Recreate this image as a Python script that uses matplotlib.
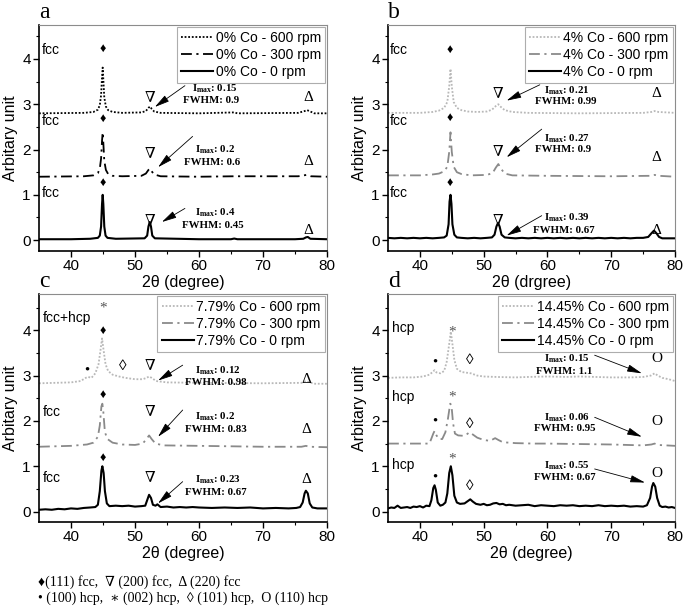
import matplotlib.pyplot as plt

plt.rcParams['font.family'] = ['Liberation Sans', 'DejaVu Sans']
SERIF = ['Liberation Serif', 'DejaVu Serif', 'DejaVu Sans']

# ---- data: (2theta, intensity) ----
# panel a, 0% Co
a_600 = [(35, 2.8), (42, 2.81), (43.5, 2.83), (44.2, 2.88), (44.5, 2.98), (44.7, 3.2), (44.85, 3.6),
         (44.95, 3.81), (45.05, 3.55), (45.2, 3.15), (45.45, 2.95), (45.8, 2.87), (46.5, 2.83), (48, 2.81),
         (51, 2.82), (51.7, 2.85), (52.1, 2.92), (52.35, 2.95), (52.6, 2.9), (53, 2.84), (54, 2.81),
         (60, 2.8), (65.5, 2.82), (66, 2.8), (75.5, 2.81), (76.5, 2.85), (76.9, 2.87), (77.4, 2.84),
         (78, 2.8), (80, 2.8)]
a_300 = [(35, 1.4), (42, 1.41), (43.5, 1.43), (44.2, 1.48), (44.5, 1.58), (44.7, 1.8), (44.85, 2.2),
         (44.95, 2.38), (45.05, 2.15), (45.2, 1.75), (45.45, 1.55), (45.8, 1.46), (46.5, 1.42), (48, 1.41),
         (51, 1.42), (51.7, 1.47), (52.1, 1.55), (52.35, 1.58), (52.6, 1.52), (53, 1.45), (54, 1.41),
         (60, 1.4), (65.5, 1.41), (75.5, 1.41), (76.8, 1.44), (77.5, 1.41), (80, 1.4)]
a_0 = [(35, 0.02), (40, 0.02), (43, 0.03), (44.2, 0.05), (44.5, 0.1), (44.7, 0.3), (44.85, 0.8),
       (44.95, 1.0), (45.05, 0.8), (45.2, 0.3), (45.4, 0.1), (45.7, 0.05), (47, 0.03), (51.5, 0.04),
       (51.9, 0.1), (52.1, 0.3), (52.3, 0.4), (52.5, 0.3), (52.7, 0.1), (53.1, 0.04), (60, 0.02),
       (65, 0.02), (65.5, 0.035), (66, 0.02), (75, 0.02), (76.3, 0.03), (76.7, 0.06), (77, 0.07),
       (77.4, 0.03), (80, 0.02)]

# panel b, 4% Co
b_600 = [(35, 2.81), (40, 2.81), (42, 2.83), (43, 2.86), (43.8, 2.92), (44.3, 3.05), (44.6, 3.4),
         (44.8, 3.78), (45.0, 3.4), (45.3, 3.05), (45.8, 2.92), (46.5, 2.87), (47.5, 2.84), (49, 2.83),
         (50.5, 2.84), (51.3, 2.88), (51.9, 2.96), (52.3, 3.0), (52.7, 2.94), (53.3, 2.87), (54.5, 2.83),
         (57, 2.81), (65, 2.8), (75, 2.81), (76.3, 2.83), (76.8, 2.85), (77.4, 2.83), (80, 2.81)]
b_300 = [(35, 1.43), (40, 1.43), (42, 1.45), (43, 1.47), (43.8, 1.52), (44.3, 1.62), (44.6, 1.95),
         (44.8, 2.38), (45.0, 1.95), (45.3, 1.62), (45.8, 1.5), (46.5, 1.46), (48, 1.43), (50.5, 1.44),
         (51.4, 1.48), (51.9, 1.6), (52.3, 1.68), (52.7, 1.58), (53.3, 1.47), (54.5, 1.43), (60, 1.42),
         (70, 1.41), (76, 1.42), (76.8, 1.44), (77.5, 1.42), (80, 1.4)]
b_0 = [(35, 0.05), (36, 0.04), (37, 0.05), (38, 0.04), (39, 0.05), (40, 0.04), (41, 0.05), (42, 0.04),
       (43, 0.05), (43.8, 0.06), (44.2, 0.1), (44.5, 0.35), (44.65, 0.85), (44.8, 1.0), (44.95, 0.8),
       (45.1, 0.35), (45.4, 0.12), (45.8, 0.06), (46.5, 0.05), (47.5, 0.04), (48.5, 0.05), (49.5, 0.04),
       (50.5, 0.05), (51.3, 0.06), (51.7, 0.12), (52.0, 0.3), (52.25, 0.38), (52.5, 0.3), (52.8, 0.12),
       (53.3, 0.06), (54, 0.05), (55, 0.04), (56, 0.05), (57, 0.04), (58, 0.05), (59, 0.04), (60, 0.05),
       (61, 0.04), (62, 0.05), (63, 0.04), (64, 0.05), (65, 0.04), (66, 0.05), (67, 0.04), (68, 0.05),
       (69, 0.04), (70, 0.05), (71, 0.04), (72, 0.05), (73, 0.04), (74, 0.05), (75, 0.05), (75.8, 0.07),
       (76.3, 0.15), (76.7, 0.21), (77.1, 0.15), (77.5, 0.07), (78, 0.04), (79, 0.04), (80, 0.04)]

# panel c, 7.79% Co
c_600 = [(35, 2.83), (40, 2.85), (41.5, 2.88), (42.3, 2.95), (42.7, 2.97), (43.2, 2.95), (43.8, 3.05),
         (44.3, 3.25), (44.6, 3.55), (44.85, 3.82), (45.1, 3.55), (45.4, 3.25), (45.8, 3.1), (46.5, 3.02),
         (47.5, 2.98), (48.5, 2.95), (50, 2.92), (51.2, 2.92), (51.8, 2.95), (52.2, 2.98), (52.6, 2.95),
         (53.3, 2.88), (55, 2.85), (60, 2.84), (70, 2.83), (76, 2.84), (76.7, 2.88), (77.3, 2.85),
         (78, 2.82), (80, 2.82)]
c_300 = [(35, 1.43), (40, 1.45), (42.5, 1.48), (43.5, 1.52), (44.2, 1.65), (44.5, 1.9), (44.75, 2.32),
         (44.9, 2.38), (45.05, 2.2), (45.3, 1.75), (45.7, 1.6), (46.5, 1.52), (48, 1.48), (50, 1.47),
         (51.2, 1.5), (51.8, 1.6), (52.2, 1.68), (52.6, 1.6), (53.2, 1.5), (54.5, 1.46), (60, 1.45),
         (70, 1.43), (76, 1.43), (76.7, 1.45), (77.3, 1.43), (80, 1.42)]
c_0 = [(35, 0.04), (36, 0.05), (37, 0.04), (38, 0.06), (39, 0.05), (40, 0.07), (41, 0.06), (42, 0.08),
       (43, 0.09), (43.8, 0.1), (44.2, 0.15), (44.5, 0.45), (44.75, 0.9), (44.9, 1.0), (45.1, 0.85),
       (45.3, 0.45), (45.6, 0.18), (46, 0.12), (47, 0.13), (48, 0.12), (49, 0.13), (50, 0.11),
       (51, 0.12), (51.6, 0.13), (51.9, 0.25), (52.2, 0.37), (52.5, 0.3), (52.8, 0.15), (53.2, 0.13),
       (53.5, 0.16), (54, 0.1), (55, 0.11), (56, 0.09), (57, 0.1), (58, 0.09), (59, 0.1), (60, 0.09),
       (62, 0.08), (64, 0.09), (66, 0.08), (68, 0.09), (70, 0.07), (72, 0.08), (74, 0.07), (75.2, 0.08),
       (75.8, 0.1), (76.2, 0.2), (76.5, 0.4), (76.7, 0.46), (77.0, 0.4), (77.3, 0.18), (77.7, 0.09),
       (78.5, 0.07), (80, 0.07)]

# panel d, 14.45% Co
d_600 = [(35, 2.95), (37, 2.96), (39, 2.96), (40.5, 2.98), (41.5, 3.02), (42.0, 3.08), (42.3, 3.12),
         (42.6, 3.07), (43.2, 3.05), (43.8, 3.1), (44.2, 3.3), (44.6, 3.7), (44.85, 3.97), (45.1, 3.7),
         (45.4, 3.35), (45.8, 3.15), (46.5, 3.08), (47.5, 3.06), (48, 3.05), (49, 3.0), (50, 2.98),
         (52, 2.97), (55, 2.96), (57, 2.97), (60, 2.98), (63, 2.97), (65, 2.98), (70, 2.96), (73, 2.96),
         (75, 2.97), (76.2, 3.0), (76.8, 3.05), (77.3, 3.0), (78, 2.95), (79, 2.92), (80, 2.88)]
d_300 = [(35, 1.5), (38, 1.5), (41.5, 1.5), (42.1, 1.72), (42.3, 1.78), (42.6, 1.68), (43.0, 1.6),
         (43.5, 1.6), (44.0, 1.75), (44.4, 2.05), (44.75, 2.38), (44.95, 2.35), (45.2, 1.95), (45.5, 1.72),
         (46, 1.68), (47, 1.67), (47.8, 1.75), (48.3, 1.7), (49, 1.63), (50, 1.58), (51, 1.56), (51.8, 1.62),
         (52.3, 1.58), (53, 1.53), (55, 1.51), (58, 1.5), (60, 1.5), (65, 1.49), (70, 1.48), (75, 1.46),
         (76.3, 1.48), (76.8, 1.5), (77.3, 1.47), (80, 1.45)]
d_0 = [(35, 0.07), (35.5, 0.09), (36, 0.08), (36.5, 0.13), (37, 0.08), (37.5, 0.09), (38, 0.1), (38.5, 0.08),
       (39, 0.11), (39.5, 0.1), (40, 0.12), (40.5, 0.09), (41, 0.13), (41.5, 0.12), (41.8, 0.25),
       (42.1, 0.52), (42.3, 0.58), (42.5, 0.48), (42.8, 0.2), (43.2, 0.13), (43.6, 0.15), (44.0, 0.2),
       (44.3, 0.4), (44.6, 0.85), (44.85, 1.0), (45.1, 0.8), (45.4, 0.35), (45.8, 0.2), (46.3, 0.17),
       (47, 0.18), (47.5, 0.23), (47.9, 0.27), (48.3, 0.22), (48.8, 0.17), (49.5, 0.15), (50, 0.17),
       (50.5, 0.14), (51, 0.15), (51.5, 0.18), (52, 0.19), (52.5, 0.16), (53, 0.17), (53.5, 0.14),
       (54, 0.15), (55, 0.13), (56, 0.14), (57, 0.15), (58, 0.12), (59, 0.14), (60, 0.13), (61, 0.12),
       (62, 0.14), (63, 0.13), (64, 0.14), (65, 0.12), (66, 0.13), (67, 0.12), (68, 0.14), (69, 0.12),
       (70, 0.13), (71, 0.12), (72, 0.13), (73, 0.11), (74, 0.12), (75, 0.11), (75.6, 0.14), (76.1, 0.3),
       (76.4, 0.55), (76.6, 0.63), (76.9, 0.55), (77.2, 0.3), (77.6, 0.13), (78, 0.1), (78.5, 0.11),
       (79, 0.09), (79.5, 0.1), (80, 0.08)]

compositions = ['0%', '4%', '7.79%', '14.45%']
speeds = ['600 rpm', '300 rpm', '0 rpm']
xlabels = ['2θ (degree)', '2θ (drgree)', '2θ (degree)', '2θ (degree)']
letters = ['a', 'b', 'c', 'd']

# annotation values (Imax, FWHM) per panel, top to bottom
imax = [['0.15', '0.2', '0.4'], ['0.21', '0.27', '0.39'], ['0.12', '0.2', '0.23'], ['0.15', '0.06', '0.55']]
fwhm = [['0.9', '0.6', '0.45'], ['0.99', '0.9', '0.67'], ['0.98', '0.83', '0.67'], ['1.1', '0.95', '0.67']]
phase = [['fcc', 'fcc', 'fcc'], ['fcc', 'fcc', 'fcc'], ['fcc+hcp', 'fcc', 'fcc'], ['hcp', 'hcp', 'hcp']]

curves = [[a_600, a_300, a_0], [b_600, b_300, b_0], [c_600, c_300, c_0], [d_600, d_300, d_0]]

fig = plt.figure(figsize=(6.85, 6.07), dpi=100)
W, H = 685, 607
boxes = [(39, 25, 327, 251), (388, 25, 675, 251), (39, 294, 327, 522), (388, 294, 675, 522)]
ylims = [(-0.24, 4.75), (-0.24, 4.75), (-0.23, 4.8), (-0.23, 4.8)]

styles = [(0, (1, 1)), (0, (6, 2.5, 1.2, 2.5)), 'solid']
colors_gray = ['#b8b8b8', '#8a8a8a', 'black']
widths = [1.3, 1.3, 1.5]

axes = []
for i, (l, t, r, b) in enumerate(boxes):
    ax = fig.add_axes([l / W, 1 - b / H, (r - l) / W, (b - t) / H])
    axes.append(ax)
    cols = ['black'] * 3 if i == 0 else colors_gray
    for j, pts in enumerate(curves[i]):
        xs, ys = zip(*pts)
        ax.plot(xs, ys, linestyle=styles[j], color=cols[j], lw=widths[j],
                label=f'{compositions[i]} Co - {speeds[j]}')
    ax.set_xlim(35, 80)
    ax.set_ylim(*ylims[i])
    ax.set_xticks([40, 50, 60, 70, 80])
    ax.set_xticks([45, 55, 65, 75], minor=True)
    ax.set_yticks([0, 1, 2, 3, 4])
    ax.set_yticks([0.5, 1.5, 2.5, 3.5, 4.5], minor=True)
    ax.tick_params(which='major', direction='out', length=4, width=1, labelsize=11, pad=2)
    ax.tick_params(which='minor', direction='out', length=2.5, width=0.8)
    for s in ['left', 'bottom']:
        ax.spines[s].set_linewidth(1.2)
    for s in ['top', 'right']:
        ax.spines[s].set_color('#8c8c8c')
        ax.spines[s].set_linewidth(0.8)
    ax.set_xlabel(xlabels[i], fontsize=11.5, labelpad=1)
    ax.set_ylabel('Arbitary unit', fontsize=11.5, labelpad=3)
    leg = ax.legend(loc='upper right', fontsize=10, frameon=True, fancybox=False, handlelength=2.3,
                    borderaxespad=0.15, labelspacing=0.2, handletextpad=0.2, borderpad=0.3)
    leg.get_frame().set_edgecolor('#999999')
    leg.get_frame().set_linewidth(0.8)
    ax.text(0.0, 1.01, letters[i], transform=ax.transAxes, family=SERIF, fontsize=17,
            va='bottom', ha='left')

# phase labels
phase_y = [[4.19, 2.64, 1.04], [4.2, 2.62, 1.05], [4.26, 2.2, 0.74], [4.04, 2.53, 1.03]]
phase_x = [35.4, 35.3, 35.6, 35.7]
for i, ax in enumerate(axes):
    for k in range(3):
        ax.text(phase_x[i], phase_y[i][k], phase[i][k], fontsize=10, va='center', ha='left')

# Imax / FWHM text + arrows: (imax_x, imax_y, fwhm_x, fwhm_y, tail, head)
notes = [
    [(58.9, 3.34, 57.45, 3.08, (57.8, 3.41), (53.1, 2.94)),
     (59.3, 2.0, 57.7, 1.72, (59.0, 2.29), (53.6, 1.61)),
     (59.4, 0.61, 57.3, 0.33, (57.8, 0.70), (54.2, 0.40))],
    [(59.45, 3.31, 58.0, 3.06, (58.8, 3.43), (53.6, 3.08)),
     (59.45, 2.25, 58.0, 2.0, (59.1, 2.45), (53.6, 1.83)),
     (59.45, 0.5, 57.7, 0.21, (59.1, 0.54), (53.6, 0.1))],
    [(59.4, 3.1, 57.8, 2.84, (57.45, 3.23), (53.6, 2.89)),
     (59.4, 2.09, 57.8, 1.81, (57.45, 2.24), (53.6, 1.65)),
     (59.4, 0.70, 57.8, 0.42, (57.45, 0.66), (53.6, 0.18))],
    [(59.45, 3.38, 58.2, 3.1, (67.4, 3.45), (74.8, 3.05)),
     (59.45, 2.08, 57.9, 1.84, (67.4, 2.08), (74.8, 1.65)),
     (59.45, 1.01, 57.9, 0.75, (67.4, 0.94), (75.3, 0.64))],
]
for i, ax in enumerate(axes):
    for k, (ix, iy, fx, fy, tail, head) in enumerate(notes[i]):
        ax.text(ix, iy, r'I$_{\mathregular{max}}$: ' + imax[i][k], family=SERIF, fontweight='bold',
                fontsize=7.8, va='center', ha='left')
        ax.text(fx, fy, 'FWHM: ' + fwhm[i][k], family=SERIF, fontweight='bold',
                fontsize=7.8, va='center', ha='left')
        ax.annotate('', xy=head, xytext=tail,
                    arrowprops=dict(arrowstyle='-|>,head_length=0.9,head_width=0.22', color='black',
                                    lw=0.6, shrinkA=0, shrinkB=0))

# peak index symbols: (symbol, x, [y for each curve], colour, size)
symbols = [
    [('♦', 44.95, [4.22, 2.68, 1.26], 'black', 9),
     ('∇', 52.3, [3.14, 1.91, 0.43], 'black', 11),
     ('Δ', 77.1, [3.16, 1.74, 0.22], 'black', 11)],
    [('♦', 44.7, [4.2, 2.71, 1.27], 'black', 9),
     ('∇', 52.3, [3.23, 1.96, 0.43], 'black', 11),
     ('Δ', 77.1, [3.23, 1.83, 0.22], 'black', 11)],
    [('♦', 44.95, [3.99, 2.57, 1.18], 'black', 9),
     ('∇', 52.3, [3.21, 2.2, 0.74], 'black', 11),
     ('Δ', 76.8, [2.92, 1.81, 0.71], 'black', 11)],
    [('*', 45.0, [3.96, 2.52, 1.15], '#555555', 11),
     ('●', 42.4, [3.34, 2.04, 0.79], 'black', 6),
     ('◊', 47.8, [3.34, 1.92, 0.55], 'black', 11),
     ('O', 77.1, [3.38, 1.98, 0.83], 'black', 11)],
]
for i, ax in enumerate(axes):
    for sym, x, ys, col, size in symbols[i]:
        for y in ys:
            ax.text(x, y, sym, color=col, fontsize=size, family=SERIF, ha='center', va='center')

# extra hcp marks on the top curve of panel c
axes[2].text(44.95, 4.48, '*', color='#555555', fontsize=11, family=SERIF, ha='center', va='center')
axes[2].text(42.5, 3.16, '●', color='black', fontsize=6, family=SERIF, ha='center', va='center')
axes[2].text(48.1, 3.21, '◊', color='black', fontsize=11, family=SERIF, ha='center', va='center')

# key at the bottom
fig.text(38 / W, 1 - 582 / H, '♦(111) fcc,  ∇ (200) fcc,  Δ (220) fcc', family=SERIF, fontsize=10,
         va='center', ha='left')
fig.text(38 / W, 1 - 598 / H, '• (100) hcp,  ∗ (002) hcp,  ◊ (101) hcp,  O (110) hcp', family=SERIF,
         fontsize=10, va='center', ha='left')

fig.savefig('out.png', dpi=100)
